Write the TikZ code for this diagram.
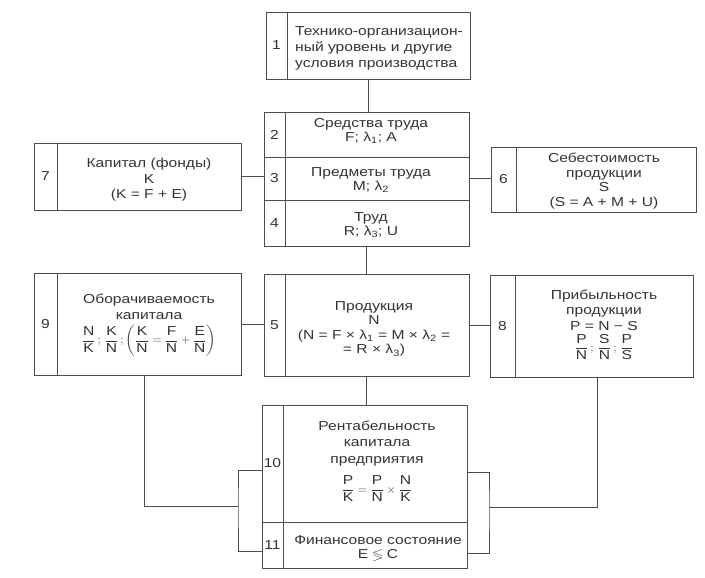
\documentclass[tikz,border=0pt]{standalone}
\usepackage{amsmath}
\usepackage{amssymb}
\usepackage{fontspec}
\setmainfont[FakeStretch=1.2]{Liberation Sans}
\newcommand{\ffr}[2]{\dfrac{\text{#1}}{\text{#2}}}

\begin{document}
\begin{tikzpicture}[x=1pt,y=-1pt,line width=0.9pt,draw=black!70,text=black!80,
 frame/.style 2 args={draw,minimum width=#1,minimum height=#2,inner sep=0pt,outer sep=0pt},
 numcell/.style={draw,anchor=west,minimum width=21pt,minimum height=#1,inner sep=0pt,outer sep=0pt,font=\fontsize{13}{14}\selectfont},
 txt/.style={align=center,inner sep=0pt,font=\fontsize{13}{14.5}\selectfont}]
 \useasboundingbox (0,0) rectangle (705,578);
 \node[frame={204pt}{67pt}] (b1) at (368,45.5) {};
 \node[numcell=67pt] (n1) at (b1.west) {1};
 \node[txt,align=left,font=\fontsize{13}{16}\selectfont] (t1) at (379,48) {Технико-организацион-\\ный уровень и другие\\условия производства};
 \node[frame={205pt}{45pt}] (b2) at (366.5,134.5) {};
 \node[numcell=45pt] (n2) at (b2.west) {2};
 \node[txt] (t2) at (371,131) {Средства труда\\F; λ\textsubscript{1}; A};
 \node[frame={205pt}{43pt}] (b3) at (366.5,178.5) {};
 \node[numcell=43pt] (n3) at (b3.west) {3};
 \node[txt] (t3) at (371,180) {Предметы труда\\M; λ\textsubscript{2}};
 \node[frame={205pt}{46pt}] (b4) at (366.5,223) {};
 \node[numcell=46pt] (n4) at (b4.west) {4};
 \node[txt] (t4) at (371,225) {Труд\\R; λ\textsubscript{3}; U};
 \node[frame={207pt}{67pt}] (b7) at (137.5,176.5) {};
 \node[numcell=67pt,minimum width=23pt] (n7) at (b7.west) {7};
 \node[txt,font=\fontsize{13}{15.5}\selectfont] (t7) at (149,180) {Капитал (фонды)\\K\\(K = F + E)};
 \node[frame={205pt}{65pt}] (b6) at (593.5,179.5) {};
 \node[numcell=65pt,minimum width=25pt] (n6) at (b6.west) {6};
 \node[txt] (t6) at (604,181) {Себестоимость\\продукции\\S\\(S = A + M + U)};
 \node[frame={207pt}{102pt}] (b9) at (137.5,324) {};
 \node[numcell=102pt,minimum width=23pt] (n9) at (b9.west) {9};
 \node[txt,font=\fontsize{13}{16}\selectfont] (t9) at (149,325) {Оборачиваемость\\капитала\\[5pt]
  $\ffr{N}{K}\,;\,\ffr{K}{N}\,;\biggl(\ffr{K}{N}=\ffr{F}{N}+\ffr{E}{N}\biggr)$};
 \node[frame={205pt}{102pt}] (b5) at (366.5,325) {};
 \node[numcell=102pt] (n5) at (b5.west) {5};
 \node[txt] (t5) at (374,329) {Продукция\\N\\(N = F × λ\textsubscript{1} = M × λ\textsubscript{2} =\\= R × λ\textsubscript{3})};
 \node[frame={203pt}{102pt}] (b8) at (591.5,326) {};
 \node[numcell=102pt,minimum width=25pt] (n8) at (b8.west) {8};
 \node[txt,font=\fontsize{13}{15.5}\selectfont] (t8) at (604,325) {Прибыльность\\продукции\\P = N − S\\[3pt]
  $\ffr{P}{N}\,;\,\ffr{S}{N}\,;\,\ffr{P}{S}$};
 \node[frame={205pt}{117pt}] (b10) at (364.5,463.5) {};
 \node[numcell=117pt] (n10) at (b10.west) {10};
 \node[txt,font=\fontsize{13}{16.5}\selectfont] (t10) at (377,461) {Рентабельность\\капитала\\предприятия\\[9pt]
  $\ffr{P}{K}=\ffr{P}{N}\times\ffr{N}{K}$};
 \node[frame={205pt}{46pt}] (b11) at (364.5,545) {};
 \node[numcell=46pt] (n11) at (b11.west) {11};
 \node[txt] (t11) at (378,548) {Финансовое состояние\\E $\lessgtr$ C};
 \coordinate (jl) at (238,506);
 \coordinate (jr) at (489,507);
 \draw (b1.south) -- (b1.south |- b2.north);
 \draw (b4.south) -- (b4.south |- b5.north);
 \draw (b5.south) -- (b5.south |- b10.north);
 \draw (b7.east) -- (b7.east -| b3.west);
 \draw (b3.east) -- (b3.east -| b6.west);
 \draw (b9.east) -- (b9.east -| b5.west);
 \draw (b5.east) -- (b5.east -| b8.west);
 \draw ([xshift=7pt]b9.south) |- (jl);
 \draw ([yshift=-6.5pt]b10.west) -| (jl) |- ([yshift=-6pt]b11.west);
 \draw ([xshift=5.5pt]b8.south) |- (jr);
 \draw ([yshift=-8.5pt]b10.east) -| (jr) |- ([yshift=-8pt]b11.east);
\end{tikzpicture}
\end{document}
